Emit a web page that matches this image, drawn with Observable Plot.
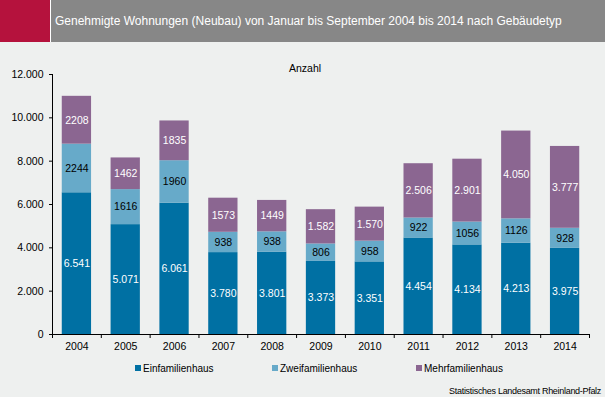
<!DOCTYPE html>
<html><head><meta charset="utf-8">
<script src="https://cdn.jsdelivr.net/npm/d3@7"></script>
<script src="https://cdn.jsdelivr.net/npm/@observablehq/plot@0.6"></script>
<style>
body{margin:0;background:#eef0ef;font-family:"Liberation Sans",Arial,sans-serif;}
#wrap{position:relative;width:605px;height:397px;overflow:hidden;background:#eef0ef}
#head{position:absolute;left:0;top:0;width:605px;height:42px;background:#878787}
#red{position:absolute;left:0;top:0;width:50px;height:42px;background:#b5123d;border-right:1px solid #fff}
#title{position:absolute;left:55px;top:0;line-height:42px;color:#fff;font-size:12px;white-space:nowrap}
#chart{position:absolute;left:0;top:42px}
.leg{position:absolute;top:362px;font-size:10px;color:#000;line-height:14px;white-space:nowrap}
.sw{display:inline-block;width:6px;height:6px;margin-right:2px;vertical-align:1px}
#cap{position:absolute;right:4px;top:386px;font-size:9px;letter-spacing:-0.3px;color:#000;white-space:nowrap}
</style></head>
<body>
<div id="wrap">
  <div id="head"><div id="red"></div><div id="title">Genehmigte Wohnungen (Neubau) von Januar bis September 2004 bis 2014 nach Gebäudetyp</div></div>
  <div id="chart"></div>
  <div id="legend"></div>
  <div id="cap">Statistisches Landesamt Rheinland-Pfalz</div>
</div>
<script>
const years = [2004, 2005, 2006, 2007, 2008, 2009, 2010, 2011, 2012, 2013, 2014];
const series = ["Einfamilienhaus", "Zweifamilienhaus", "Mehrfamilienhaus"];
const einfamilien = [6541, 5071, 6061, 3780, 3801, 3373, 3351, 4454, 4134, 4213, 3975];
const zweifamilien = [2244, 1616, 1960, 938, 938, 806, 958, 922, 1056, 1126, 928];
const mehrfamilien = [2208, 1462, 1835, 1573, 1449, 1582, 1570, 2506, 2901, 4050, 3777];
const einLabels = ["6.541", "5.071", "6.061", "3.780", "3.801", "3.373", "3.351", "4.454", "4.134", "4.213", "3.975"];
const zweiLabels = ["2244", "1616", "1960", "938", "938", "806", "958", "922", "1056", "1126", "928"];
const mehrLabels = ["2208", "1462", "1835", "1573", "1449", "1.582", "1.570", "2.506", "2.901", "4.050", "3.777"];
const yTicks = [0, 2000, 4000, 6000, 8000, 10000, 12000];
const colors = ["#0070a3", "#67aac9", "#8b6691"];
const labelColors = ["#fff", "#000", "#fff"];

const values = [einfamilien, zweifamilien, mehrfamilien];
const labels = [einLabels, zweiLabels, mehrLabels];
const rows = [];
years.forEach((yr, i) => {
  let base = 0;
  series.forEach((s, k) => {
    const v = values[k][i];
    rows.push({year: yr, series: s, k, y1: base, y2: base + v, label: labels[k][i]});
    base += v;
  });
});
const half = 0.3;
const bounds = [years[0] - 0.5, ...years.map(y => y + 0.5)];
const de = d3.formatLocale({decimal: ",", thousands: ".", grouping: [3], currency: ["", " €"]});
const fmt = de.format(",");

const textMarks = series.map((s, k) => Plot.text(rows.filter(r => r.k === k), {
  x: "year", y: r => (r.y1 + r.y2) / 2, text: "label", fill: labelColors[k], fontSize: 10.5
}));

const chart = Plot.plot({
  width: 605,
  height: 313,
  marginTop: 32,
  marginBottom: 21,
  marginLeft: 52,
  marginRight: 16,
  style: {fontFamily: "'Liberation Sans', Arial, sans-serif", fontSize: "10px", background: "transparent", color: "#000"},
  x: {domain: [bounds[0], bounds[bounds.length - 1]]},
  y: {domain: [0, 12000]},
  color: {domain: series, range: colors},
  marks: [
    Plot.rectY(rows, {x1: r => r.year - half, x2: r => r.year + half, y1: "y1", y2: "y2", fill: "series"}),
    ...textMarks,
    Plot.axisY({ticks: yTicks, tickSize: 3, tickPadding: 6, tickFormat: fmt, label: null, fontSize: 10.5}),
    Plot.axisX({ticks: bounds, tickSize: 4, tickFormat: () => "", label: null}),
    Plot.axisX({ticks: years, tickSize: 0, tickPadding: 8, tickFormat: d => String(d), label: null, fontSize: 10.5}),
    Plot.frame({anchor: "left", stroke: "#000"}),
    Plot.frame({anchor: "bottom", stroke: "#000"}),
    Plot.text(["Anzahl"], {frameAnchor: "top", dy: -10, dx: -16, fontSize: 10.5})
  ]
});
document.getElementById("chart").appendChild(chart);

const legX = [135, 272, 416];
const leg = document.getElementById("legend");
series.forEach((s, k) => {
  const d = document.createElement("div");
  d.className = "leg";
  d.style.left = legX[k] + "px";
  d.innerHTML = `<span class="sw" style="background:${colors[k]}"></span>${s}`;
  leg.appendChild(d);
});
</script>
</body></html>
